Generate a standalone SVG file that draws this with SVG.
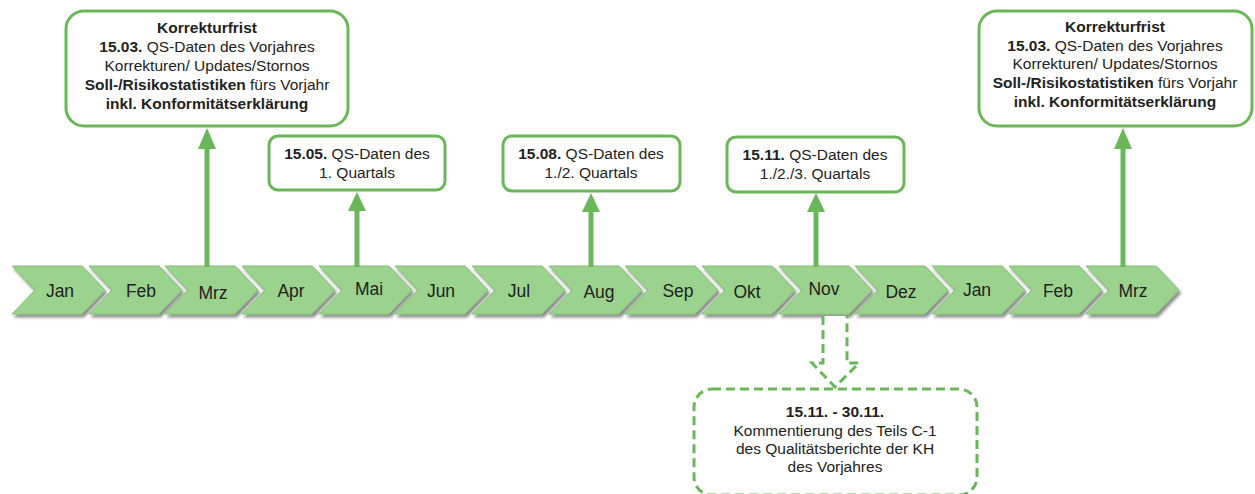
<svg xmlns="http://www.w3.org/2000/svg" width="1255" height="494" viewBox="0 0 1255 494">
  <defs>
    <filter id="shadow" x="-10%" y="-20%" width="130%" height="160%">
      <feGaussianBlur in="SourceAlpha" stdDeviation="1.5"/>
      <feOffset dx="2" dy="3" result="b"/>
      <feComponentTransfer><feFuncA type="linear" slope="0.45"/></feComponentTransfer>
      <feMerge><feMergeNode/><feMergeNode in="SourceGraphic"/></feMerge>
    </filter>
    <path id="chev" d="M0,0 H70 L93,24 L70,48 H0 L23,24 Z"/>
  </defs>
  <style>
    .chev { fill: #9bd28d; stroke: #7fc071; stroke-width: 1; filter: url(#shadow); }
    .month { font-family: "Liberation Sans", Arial, sans-serif; font-size: 17.5px; fill: #222; text-anchor: middle; }
    .box { fill: #fff; stroke: #6ab759; stroke-width: 3; }
    .dbox { fill: #fff; stroke: #6ab759; stroke-width: 3; stroke-dasharray: 9 5; }
    .t { font-family: "Liberation Sans", Arial, sans-serif; font-size: 15.5px; fill: #222; text-anchor: middle; }
    .b { font-weight: bold; }
    .shaft { stroke: #6ab759; stroke-width: 5; fill: none; }
    .head { fill: #6ab759; }
  </style>

  <!-- month timeline -->
  <g id="timeline">
    <g id="m-jan"><use href="#chev" class="chev" x="12" y="266"/><text class="month" x="60" y="297">Jan</text></g>
    <g id="m-feb"><use href="#chev" class="chev" x="89" y="266"/><text class="month" x="141" y="297">Feb</text></g>
    <g id="m-mrz"><use href="#chev" class="chev" x="165" y="266"/><text class="month" x="213" y="299">Mrz</text></g>
    <g id="m-apr"><use href="#chev" class="chev" x="242" y="266"/><text class="month" x="291" y="297">Apr</text></g>
    <g id="m-mai"><use href="#chev" class="chev" x="319" y="266"/><text class="month" x="369" y="295">Mai</text></g>
    <g id="m-jun"><use href="#chev" class="chev" x="395" y="266"/><text class="month" x="441" y="297">Jun</text></g>
    <g id="m-jul"><use href="#chev" class="chev" x="472" y="266"/><text class="month" x="519" y="297">Jul</text></g>
    <g id="m-aug"><use href="#chev" class="chev" x="549" y="266"/><text class="month" x="599" y="298">Aug</text></g>
    <g id="m-sep"><use href="#chev" class="chev" x="625" y="266"/><text class="month" x="678" y="297">Sep</text></g>
    <g id="m-okt"><use href="#chev" class="chev" x="702" y="266"/><text class="month" x="747" y="298">Okt</text></g>
    <g id="m-nov"><use href="#chev" class="chev" x="779" y="266"/><text class="month" x="824" y="295">Nov</text></g>
    <g id="m-dez"><use href="#chev" class="chev" x="855" y="266"/><text class="month" x="901" y="298">Dez</text></g>
    <g id="m-jan2"><use href="#chev" class="chev" x="932" y="266"/><text class="month" x="977" y="296">Jan</text></g>
    <g id="m-feb2"><use href="#chev" class="chev" x="1009" y="266"/><text class="month" x="1058" y="297">Feb</text></g>
    <g id="m-mrz2"><use href="#chev" class="chev" x="1086" y="266"/><text class="month" x="1133" y="297">Mrz</text></g>
  </g>

  <!-- connectors -->
  <g id="connectors">
    <line class="shaft" x1="207" y1="267" x2="207" y2="146"/>
    <polygon class="head" points="198,149 216,149 207,128"/>
    <line class="shaft" x1="357" y1="267" x2="357" y2="208"/>
    <polygon class="head" points="348,211 366,211 357,192"/>
    <line class="shaft" x1="591" y1="267" x2="591" y2="209"/>
    <polygon class="head" points="582,212 600,212 591,193"/>
    <line class="shaft" x1="816" y1="267" x2="816" y2="209"/>
    <polygon class="head" points="807,212 825,212 816,193"/>
    <line class="shaft" x1="1123" y1="267" x2="1123" y2="146"/>
    <polygon class="head" points="1114,149 1132,149 1123,128"/>
    <path class="dbox" d="M823,316 V363 H812 L835,387 L859,363 H847 V316"/>
  </g>

  <!-- deadline boxes -->
  <g id="n-maerz">
    <rect class="box" x="66" y="11" width="282" height="115" rx="18"/>
    <text class="t b" x="207" y="33">Korrekturfrist</text>
    <text class="t" x="207" y="52"><tspan class="b">15.03.</tspan> QS-Daten des Vorjahres</text>
    <text class="t" x="207" y="71">Korrekturen/ Updates/Stornos</text>
    <text class="t" x="207" y="90"><tspan class="b">Soll-/Risikostatistiken</tspan> fürs Vorjahr</text>
    <text class="t b" x="207" y="109">inkl. Konformitätserklärung</text>
  </g>
  <g id="n-mai">
    <rect class="box" x="269" y="136" width="176" height="54" rx="9"/>
    <text class="t" x="357" y="159"><tspan class="b">15.05.</tspan> QS-Daten des</text>
    <text class="t" x="357" y="178">1. Quartals</text>
  </g>
  <g id="n-aug">
    <rect class="box" x="503" y="136" width="177" height="55" rx="9"/>
    <text class="t" x="591" y="159"><tspan class="b">15.08.</tspan> QS-Daten des</text>
    <text class="t" x="591" y="178">1./2. Quartals</text>
  </g>
  <g id="n-nov">
    <rect class="box" x="727" y="137" width="177" height="55" rx="9"/>
    <text class="t" x="815" y="160"><tspan class="b">15.11.</tspan> QS-Daten des</text>
    <text class="t" x="815" y="179">1./2./3. Quartals</text>
  </g>
  <g id="n-maerz2">
    <rect class="box" x="979" y="11" width="273" height="115" rx="18"/>
    <text class="t b" x="1115" y="32">Korrekturfrist</text>
    <text class="t" x="1115" y="51"><tspan class="b">15.03.</tspan> QS-Daten des Vorjahres</text>
    <text class="t" x="1115" y="69">Korrekturen/ Updates/Stornos</text>
    <text class="t" x="1115" y="88"><tspan class="b">Soll-/Risikostatistiken</tspan> fürs Vorjahr</text>
    <text class="t b" x="1115" y="107">inkl. Konformitätserklärung</text>
  </g>
  <g id="n-kommentierung">
    <rect class="dbox" x="694" y="389" width="283" height="106" rx="18"/>
    <text class="t b" x="835" y="417">15.11. - 30.11.</text>
    <text class="t" x="835" y="436">Kommentierung des Teils C-1</text>
    <text class="t" x="835" y="454">des Qualitätsberichte der KH</text>
    <text class="t" x="835" y="472">des Vorjahres</text>
  </g>
</svg>
